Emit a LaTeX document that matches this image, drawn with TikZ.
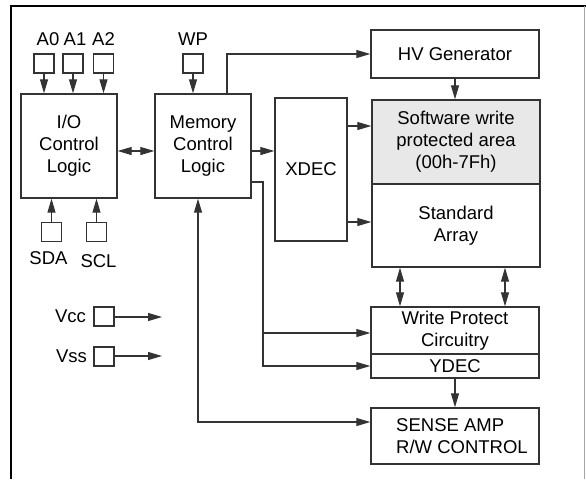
\documentclass[tikz,border=0pt]{standalone}
\usepackage{fontspec}
\setmainfont{Liberation Sans}
\usetikzlibrary{arrows.meta,positioning}

\begin{document}
\begin{tikzpicture}[x=1pt,y=-1pt,>={Triangle[length=14pt,width=8pt]},
 font=\fontsize{18.5}{22}\selectfont,
 box/.style={draw=black!80,line width=1.4pt,align=center,inner sep=0pt},
 pin/.style={draw=black!80,line width=1.2pt,minimum width=20pt,minimum height=19pt,inner sep=0pt},
 wire/.style={line width=1.1pt,black!80}]
\useasboundingbox (0,0) rectangle (586,479);
% frame
\draw[line width=2.4pt] (11,479) -- (11,6) -- (586,6);
\draw[gray!70,line width=0.8pt] (584,6) -- (584,479);
% blocks
\node[box,minimum width=96pt,minimum height=104pt] (io) at (69,146) {I/O\\Control\\Logic};
\node[box,minimum width=96pt,minimum height=104pt] (mem) at (203,146) {Memory\\Control\\Logic};
\node[box,minimum width=72pt,minimum height=143pt] (xdec) at (311,169.5) {XDEC};
\node[box,minimum width=168pt,minimum height=48pt] (hv) at (455,54) {HV Generator};
\node[box,fill=black!9,minimum width=168pt,minimum height=84pt] (sw) at (456,142) {Software write\\protected area\\(00h-7Fh)};
\node[box,minimum width=168pt,minimum height=83pt] (std) at (456,225.5) {Standard\\Array};
\node[box,minimum width=168pt,minimum height=47pt] (wp) at (455,330.5) {Write Protect\\Circuitry};
\node[box,minimum width=168pt,minimum height=24pt] (ydec) at (455,366) {YDEC};
\node[box,align=left,minimum width=168pt,minimum height=56pt] (sense) at (455,436) {\hspace*{14pt}SENSE AMP\\\hspace*{14pt}R/W CONTROL};
% pins
\node[pin] (pa0) at (44,63.5) {};
\node[pin] (pa1) at (73,63.5) {};
\node[pin] (pa2) at (103.5,63.5) {};
\node[pin] (pwp) at (193,63.5) {};
\node[pin] (psda) at (51.5,232) {};
\node[pin] (pscl) at (96.5,232) {};
\node[pin] (pvcc) at (104,316.5) {};
\node[pin] (pvss) at (104,356.5) {};
\node[above=4pt of pa0,xshift=4pt] (la0) {A0};
\node[above=4pt of pa1,xshift=2pt] (la1) {A1};
\node[above=4pt of pa2] (la2) {A2};
\node[above=4pt of pwp] (lwp) {WP};
\node[below=6pt of psda,xshift=-3pt] (lsda) {SDA};
\node[below=9pt of pscl,xshift=2pt] (lscl) {SCL};
\node[left=4pt of pvcc] (lvcc) {Vcc};
\node[left=3pt of pvss] (lvss) {Vss};
\coordinate (vccend) at (162,317);
\coordinate (vssend) at (162,356);
\coordinate (tap) at (263,333);
% connections
\foreach \p in {pa0,pa1,pa2}
  \draw[wire,->] (\p.south) -- (\p.south |- io.north);
\draw[wire,->] (pwp.south) -- (pwp.south |- mem.north);
\draw[wire,->] (psda.north) -- (psda.north |- io.south);
\draw[wire,->] (pscl.north) -- (pscl.north |- io.south);
\draw[wire,->] (pvcc.east |- vccend) -- (vccend);
\draw[wire,->] (pvss.east |- vssend) -- (vssend);
\draw[wire,<->] ([yshift=-5pt]io.east) -- ([yshift=-5pt]mem.west);
\draw[wire,->] ([yshift=-5pt]mem.east) -- ([yshift=-5pt]mem.east -| xdec.west);
\draw[wire,->] ([xshift=24pt]mem.north) |- (hv.west);
\draw[wire,->] (hv.south) -- (hv.south |- sw.north);
\draw[wire,->] (xdec.east |- 0,126) -- (sw.west |- 0,126);
\draw[wire,->] (xdec.east |- 0,222) -- (std.west |- 0,222);
\draw[wire,->] (mem.east |- 0,182) -| (tap) -- (wp.west |- tap);
\draw[wire,->] (tap) |- (ydec.west);
\draw[wire,<->] (std.south -| 400,0) -- (wp.north -| 400,0);
\draw[wire,<->] (std.south -| 505,0) -- (wp.north -| 505,0);
\draw[wire,->] (ydec.south) -- (sense.north);
\draw[wire,<->] ([xshift=-5pt]mem.south) |- ([yshift=14pt]sense.west);
\end{tikzpicture}
\end{document}
